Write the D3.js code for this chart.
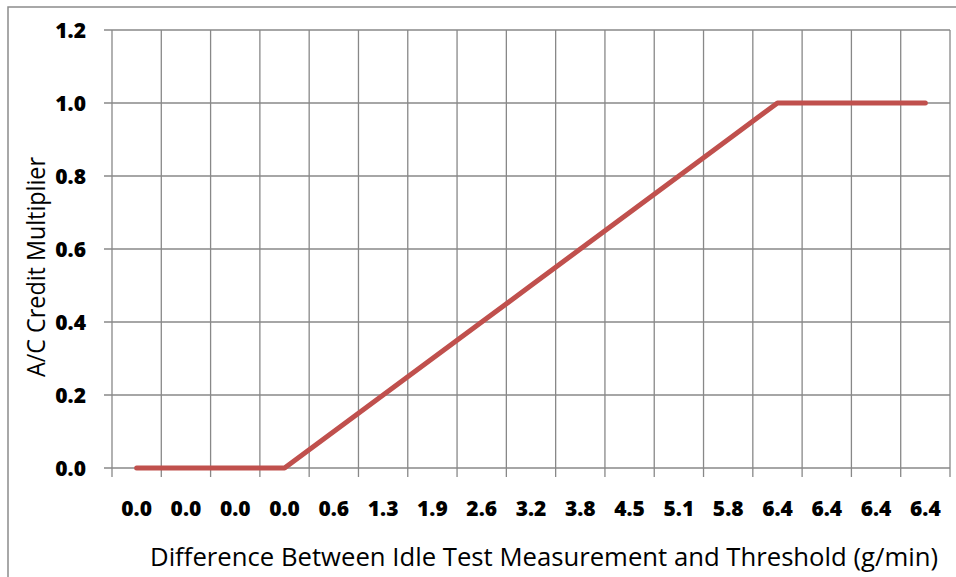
<!DOCTYPE html>
<html>
<head>
<meta charset="utf-8">
<script src="https://cdn.jsdelivr.net/npm/d3@7"></script>
<style>
  body { margin: 0; background: #fff; }
  svg { display: block; font-family: "Open Sans", Lato, sans-serif; }
</style>
</head>
<body>
<svg id="chart"></svg>
<script>
/* Data */
const categories = ["0.0", "0.0", "0.0", "0.0", "0.6", "1.3", "1.9", "2.6", "3.2",
                    "3.8", "4.5", "5.1", "5.8", "6.4", "6.4", "6.4", "6.4"];
const multiplier = [0, 0, 0, 0, 0.1, 0.2, 0.3, 0.4, 0.5, 0.6, 0.7, 0.8, 0.9, 1, 1, 1, 1];
const yTicks = [0, 0.2, 0.4, 0.6, 0.8, 1.0, 1.2];

/* Dimensions */
const W = 956, H = 577;
const margin = { top: 30, right: 6, bottom: 109, left: 112 };
const width = W - margin.left - margin.right;
const height = H - margin.top - margin.bottom;
const gridColor = "#888888";
const tickFont = "'Open Sans', sans-serif";

const svg = d3.select("#chart").attr("width", W).attr("height", H);

/* Outer chart border */
svg.append("rect")
    .attr("x", 8).attr("y", 7)
    .attr("width", W + 20).attr("height", H + 20)
    .attr("fill", "none")
    .attr("stroke", "#8c8c8c")
    .attr("stroke-width", 1.5);

const g = svg.append("g")
    .attr("transform", `translate(${margin.left},${margin.top})`);

/* Scales - index domain since labels repeat */
const x = d3.scaleBand()
    .domain(d3.range(categories.length))
    .range([0, width]);

const y = d3.scaleLinear()
    .domain([0, 1.2])
    .range([height, 0]);

/* Horizontal grid lines */
g.append("g")
    .selectAll("line")
    .data(yTicks)
    .join("line")
      .attr("x1", -8).attr("x2", width)
      .attr("y1", d => y(d)).attr("y2", d => y(d))
      .attr("stroke", gridColor)
      .attr("stroke-width", 1.3);

/* Vertical grid lines at category boundaries */
const bounds = d3.range(categories.length + 1).map(i => i * x.step());
g.append("g")
    .selectAll("line")
    .data(bounds)
    .join("line")
      .attr("x1", d => d).attr("x2", d => d)
      .attr("y1", 0).attr("y2", height + 9)
      .attr("stroke", gridColor)
      .attr("stroke-width", 1.3);

/* Y axis labels */
const yAxis = d3.axisLeft(y)
    .tickValues(yTicks)
    .tickFormat(d3.format(".1f"))
    .tickSize(0)
    .tickPadding(26);
g.append("g")
    .call(yAxis)
    .call(a => a.select(".domain").remove())
    .selectAll("text")
      .attr("fill", "#000")
      .attr("dy", "0.36em")
      .style("font-size", "21px")
      .style("font-weight", "800")
      .style("font-family", tickFont);

/* X axis labels */
const xAxis = d3.axisBottom(x)
    .tickFormat(i => categories[i])
    .tickSize(0)
    .tickPadding(33);
g.append("g")
    .attr("transform", `translate(0,${height})`)
    .call(xAxis)
    .call(a => a.select(".domain").remove())
    .selectAll("text")
      .attr("fill", "#000")
      .style("font-size", "21px")
      .style("font-weight", "800")
      .style("font-family", tickFont);

/* The line */
const line = d3.line()
    .x((d, i) => x(i) + x.bandwidth() / 2)
    .y(d => y(d));

g.append("path")
    .datum(multiplier)
    .attr("d", line)
    .attr("fill", "none")
    .attr("stroke", "#C0504D")
    .attr("stroke-width", 5)
    .attr("stroke-linecap", "round")
    .attr("stroke-linejoin", "round");

/* Axis titles */
svg.append("text")
    .attr("x", 150)
    .attr("y", 566)
    .attr("textLength", 788)
    .attr("lengthAdjust", "spacingAndGlyphs")
    .style("font-size", "25px")
    .text("Difference Between Idle Test Measurement and Threshold (g/min)");

svg.append("text")
    .attr("transform", "translate(45,377) rotate(-90)")
    .attr("textLength", 220)
    .attr("lengthAdjust", "spacingAndGlyphs")
    .style("font-size", "25px")
    .text("A/C Credit Multiplier");
</script>
</body>
</html>
